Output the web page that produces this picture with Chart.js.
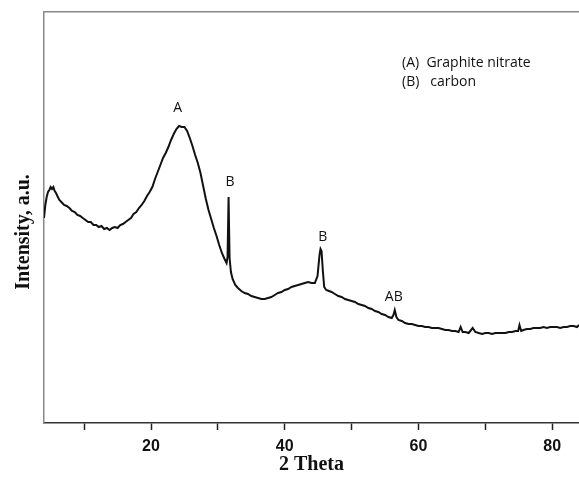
<!DOCTYPE html>
<html>
<head>
<meta charset="utf-8">
<script src="https://cdn.jsdelivr.net/npm/chart.js@4"></script>
<style>
  html, body { margin: 0; padding: 0; background: #fff; }
  canvas { display: block; }
</style>
</head>
<body>
<canvas id="xrdChart" width="579" height="477"></canvas>
<script>
// diffraction pattern (2 theta in degrees, intensity in arbitrary units)
const twoTheta = [
  4.0, 4.2, 4.4, 4.6, 4.8, 5.0, 5.2, 5.4, 5.6, 5.8, 6.0, 6.3, 6.6, 7.0, 7.4, 7.8, 8.2, 8.6, 9.0, 9.4,
  9.8, 10.2, 10.6, 11.0, 11.4, 11.8, 12.2, 12.6, 13.0, 13.4, 13.8, 14.2, 14.6, 15.0, 15.4, 15.8, 16.2, 16.6, 17.0, 17.4,
  17.8, 18.2, 18.6, 19.0, 19.4, 19.8, 20.2, 20.6, 21.0, 21.4, 21.8, 22.2, 22.6, 23.0, 23.4, 23.8, 24.2, 24.6, 25.0, 25.4,
  25.8, 26.2, 26.6, 27.0, 27.4, 27.8, 28.2, 28.6, 29.0, 29.4, 29.8, 30.2, 30.6, 31.0, 31.3, 31.45, 31.6, 31.75, 31.95,
  32.2, 32.6, 33.0, 33.5, 34.0, 34.5, 35.0, 35.5, 36.0, 36.5, 37.0, 37.5, 38.0, 38.5, 39.0, 39.5, 40.0, 40.5, 41.0, 41.5,
  42.0, 42.5, 43.0, 43.5, 44.0, 44.5, 44.9, 45.2, 45.35, 45.5, 45.7, 45.9, 46.2, 46.6, 47.0, 47.5, 48.0, 48.5, 49.0, 49.5,
  50.0, 50.5, 51.0, 51.5, 52.0, 52.5, 53.0, 53.5, 54.0, 54.5, 55.0, 55.5, 56.0, 56.25, 56.45, 56.7, 57.0, 57.5, 58.0, 58.5,
  59.0, 59.5, 60.0, 60.5, 61.0, 61.5, 62.0, 62.5, 63.0, 63.5, 64.0, 64.5, 65.0, 65.5, 66.0, 66.3, 66.6, 67.0, 67.5, 68.1,
  68.5, 69.0, 69.5, 70.0, 70.5, 71.0, 71.5, 72.0, 72.5, 73.0, 73.5, 74.0, 74.5, 74.9, 75.1, 75.35, 75.7, 76.2, 76.7, 77.2,
  77.7, 78.2, 78.7, 79.2, 79.7, 80.2, 80.7, 81.2, 81.7, 82.2, 82.7, 83.2, 83.7, 84.0
];
const intensity = [
  205, 218, 226, 231, 233, 236, 234, 236, 232, 230, 227, 223, 221, 218, 217, 215, 212, 211, 208, 207,
  205, 203, 201, 201, 198, 198, 196, 197, 194, 195, 193, 195, 196, 195, 198, 199, 201, 203, 205, 209,
  211, 215, 218, 222, 227, 231, 236, 244, 251, 258, 265, 270, 276, 283, 289, 294, 297, 296, 296, 292,
  285, 277, 268, 260, 250, 237, 224, 213, 204, 195, 187, 178, 170, 164, 160, 166, 226, 165, 151,
  144, 138, 135, 132, 130, 129, 127, 126, 125, 124, 124, 125, 126, 128, 130, 131, 133, 134, 136, 137,
  138, 139, 140, 141, 140, 140, 147, 168, 174, 172, 152, 136, 133, 132, 131, 129, 127, 126, 124, 123,
  122, 121, 119, 118, 117, 115, 114, 112, 111, 109, 108, 106, 105, 108, 113, 106, 103, 102, 100, 99,
  99, 98, 97, 97, 96, 96, 95, 95, 95, 94, 93, 93, 92, 92, 91, 96, 91, 91, 90, 95,
  91, 90, 89, 90, 90, 89, 90, 90, 90, 90, 91, 91, 92, 92, 98, 92, 93, 94, 94, 95,
  95, 95, 96, 95, 96, 96, 96, 95, 96, 96, 97, 97, 96, 98
];

// peak letters and where they sit (data coordinates)
const peakLabels = ["A", "B", "B", "AB"];
const peakLabelX = [24.0, 31.8, 45.7, 56.3];
const peakLabelY = [315, 241, 186, 126];

const legendLines = ["(A)  Graphite nitrate", "(B)   carbon"];
const xTickValues = [10, 20, 30, 40, 50, 60, 70, 80];

const textPlugin = {
  id: "textPlugin",
  afterDatasetsDraw(chart) {
    const { ctx, scales: { x, y } } = chart;
    ctx.save();
    ctx.fillStyle = "#111";
    ctx.font = '14px "Open Sans", sans-serif';
    ctx.textAlign = "center";
    ctx.textBaseline = "middle";
    peakLabels.forEach((t, i) => {
      ctx.fillText(t, x.getPixelForValue(peakLabelX[i]), y.getPixelForValue(peakLabelY[i]));
    });
    ctx.textAlign = "left";
    legendLines.forEach((t, i) => ctx.fillText(t, 402, 63 + i * 19));

    // y axis title
    ctx.translate(24, 232);
    ctx.rotate(-Math.PI / 2);
    ctx.textAlign = "center";
    ctx.font = 'bold 20px "Liberation Serif", serif';
    ctx.fillText("Intensity, a.u.", 0, 0);
    ctx.restore();
  },
};

new Chart(document.getElementById("xrdChart"), {
  type: "line",
  data: {
    datasets: [
      {
        data: twoTheta.map((t, i) => ({ x: t, y: intensity[i] })),
        borderColor: "#111",
        borderWidth: 2,
        pointRadius: 0,
        tension: 0,
        fill: false,
      },
    ],
  },
  options: {
    responsive: false,
    animation: false,
    devicePixelRatio: 1,
    layout: { padding: { top: 12, left: 0, right: 0, bottom: 0 } },
    plugins: { legend: { display: false }, tooltip: { enabled: false } },
    scales: {
      x: {
        type: "linear",
        position: "bottom",
        min: 4,
        max: 84,
        afterBuildTicks: (axis) => {
          axis.ticks = xTickValues.map((v) => ({ value: v }));
        },
        afterFit: (axis) => {
          axis.height = 54;
        },
        ticks: {
          autoSkip: false,
          maxRotation: 0,
          padding: 7,
          color: "#111",
          font: { family: '"Liberation Sans", Arial', size: 16, weight: "bold" },
          callback: (v) => (v % 20 === 0 ? v : ""),
        },
        grid: { drawOnChartArea: false, drawTicks: true, tickLength: 7, tickColor: "#222", tickWidth: 1.5 },
        border: { color: "#333", width: 1.5 },
        title: {
          display: true,
          text: "2 Theta",
          color: "#111",
          padding: 0,
          font: { family: '"Liberation Serif", serif', size: 20, weight: "bold" },
        },
      },
      xTop: {
        type: "linear",
        position: "top",
        min: 4,
        max: 84,
        afterFit: (axis) => {
          axis.height = 0;
        },
        ticks: { display: false },
        grid: { display: false },
        border: { display: true, color: "#888", width: 1.5 },
      },
      y: {
        min: 0,
        max: 411,
        afterFit: (axis) => {
          axis.width = 44;
        },
        ticks: { display: false },
        grid: { display: false },
        border: { color: "#888", width: 1.5 },
      },
    },
  },
  plugins: [textPlugin],
});
</script>
</body>
</html>
